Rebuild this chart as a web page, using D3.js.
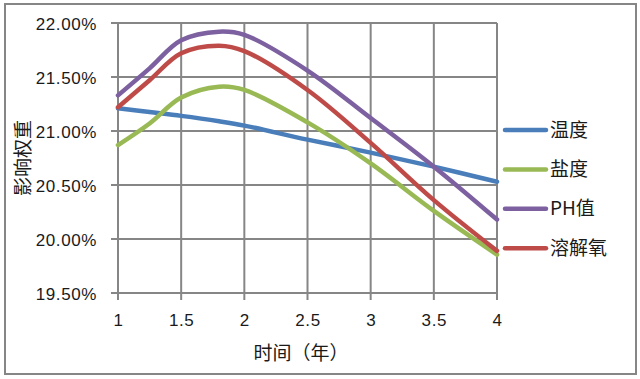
<!DOCTYPE html>
<html>

<head>
    <meta charset="UTF-8">
    <title>影响权重</title>
    <style>
        body {
            margin: 0;
            background: #fff;
        }

        text {
            fill: #1a1a1a;
        }

        .tick text {
            font-family: "Liberation Sans", sans-serif;
            font-size: 17px;
        }

        .cjk {
            font-family: "Noto Sans CJK SC", sans-serif;
            font-size: 19px;
        }
    </style>
</head>

<body>
    <svg id="chart" width="640" height="379"></svg>

    <script src="https://cdn.jsdelivr.net/npm/d3@7"></script>

    <script>
        // values (percent)
        var years = [1, 1.25, 1.5, 1.8, 2, 2.5, 3, 3.5, 4];
        var temperature = [21.21, 21.175, 21.14, 21.09, 21.05, 20.92, 20.80, 20.67, 20.53];
        var salinity = [20.87, 21.07, 21.31, 21.41, 21.38, 21.08, 20.70, 20.26, 19.855];
        var phValue = [21.33, 21.58, 21.84, 21.92, 21.89, 21.56, 21.12, 20.67, 20.18];
        var oxygen = [21.22, 21.47, 21.72, 21.79, 21.74, 21.38, 20.89, 20.36, 19.89];

        var seriesNames = ["温度", "盐度", "PH值", "溶解氧"];
        var seriesColors = ["#4a7ebb", "#98b954", "#7d60a0", "#be4b48"];
        var xTicks = [1, 1.5, 2, 2.5, 3, 3.5, 4];
        var yTicks = [19.5, 20, 20.5, 21, 21.5, 22];

        var svg = d3.select("#chart");
        var gridColor = "#868686";

        // outer frame
        svg.append("rect")
            .attr("x", 5).attr("y", 4)
            .attr("width", 631).attr("height", 370)
            .attr("fill", "none")
            .attr("stroke", gridColor)
            .attr("stroke-width", 2);

        var x = d3.scaleLinear().domain([1, 4]).range([118, 497]);
        var y = d3.scaleLinear().domain([19.5, 22]).range([293, 23]);

        // gridlines
        svg.append("g")
            .selectAll("line.h")
            .data(yTicks)
            .join("line")
            .attr("x1", x(1) - 7).attr("x2", x(4))
            .attr("y1", d => y(d)).attr("y2", d => y(d))
            .attr("stroke", gridColor).attr("stroke-width", 2);

        svg.append("g")
            .selectAll("line.v")
            .data(xTicks)
            .join("line")
            .attr("x1", d => x(d)).attr("x2", d => x(d))
            .attr("y1", y(22)).attr("y2", y(19.5) + 7)
            .attr("stroke", gridColor).attr("stroke-width", 2);

        // axes (labels only, lines drawn above)
        var yAxis = svg.append("g")
            .attr("transform", "translate(" + x(1) + ",0)")
            .call(d3.axisLeft(y).tickValues(yTicks).tickSize(0).tickPadding(21)
                .tickFormat(d => d3.format(".2f")(d) + "%"));
        yAxis.select(".domain").remove();
        yAxis.selectAll("text").attr("dy", "0.36em").attr("letter-spacing", "0.6px");

        var xAxis = svg.append("g")
            .attr("transform", "translate(0," + y(19.5) + ")")
            .call(d3.axisBottom(x).tickValues(xTicks).tickSize(0).tickPadding(21)
                .tickFormat(d3.format("")));
        xAxis.select(".domain").remove();
        xAxis.selectAll("text").attr("letter-spacing", "0.6px");

        // series
        var allSeries = [temperature, salinity, phValue, oxygen];
        var line = d3.line()
            .x((d, i) => x(years[i]))
            .y(d => y(d))
            .curve(d3.curveCatmullRom.alpha(0.5));

        svg.append("g")
            .selectAll("path")
            .data(allSeries)
            .join("path")
            .attr("d", d => line(d))
            .attr("fill", "none")
            .attr("stroke", (d, i) => seriesColors[i])
            .attr("stroke-width", 4.5)
            .attr("stroke-linecap", "round");

        // axis titles
        svg.append("text")
            .attr("class", "cjk")
            .attr("x", 301).attr("y", 360)
            .attr("text-anchor", "middle")
            .text("时间（年）");

        svg.append("text")
            .attr("class", "cjk")
            .attr("transform", "translate(30,158) rotate(-90)")
            .attr("text-anchor", "middle")
            .text("影响权重");

        // legend
        var legend = svg.append("g")
            .selectAll("g")
            .data(seriesNames)
            .join("g")
            .attr("transform", (d, i) => "translate(503," + (130 + i * 39.4) + ")");

        legend.append("line")
            .attr("x1", 2).attr("x2", 43)
            .attr("stroke", (d, i) => seriesColors[i])
            .attr("stroke-width", 4.5)
            .attr("stroke-linecap", "round");

        legend.append("text")
            .attr("class", "cjk")
            .attr("x", 47).attr("dy", "0.35em")
            .text(d => d);
    </script>

</body>

</html>
